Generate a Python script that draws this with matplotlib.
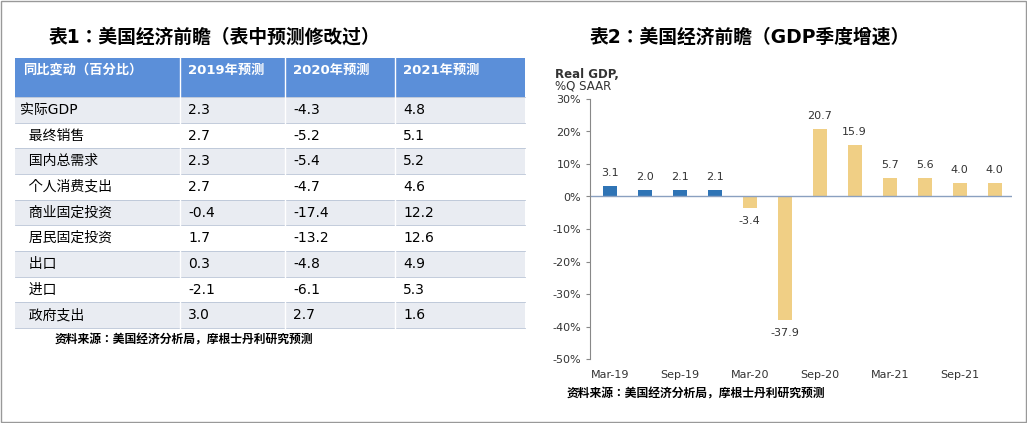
import matplotlib.pyplot as plt
from matplotlib import font_manager
from matplotlib.patches import Rectangle

# pick whatever CJK family matplotlib actually registered
cjk = [f.name for f in font_manager.fontManager.ttflist if 'CJK' in f.name]
pref = [n for n in ['Noto Sans CJK SC', 'Noto Sans CJK JP', 'Noto Sans CJK TC'] if n in cjk]
plt.rcParams['font.family'] = ['DejaVu Sans'] + (pref[:1] or cjk[:1])
plt.rcParams['font.sans-serif'] = plt.rcParams['font.family']

# table data
col_headers = ['同比变动（百分比）', '2019年预测', '2020年预测', '2021年预测']
row_names = ['实际GDP', '  最终销售', '  国内总需求', '  个人消费支出', '  商业固定投资',
             '  居民固定投资', '  出口', '  进口', '  政府支出']
f2019 = ['2.3', '2.7', '2.3', '2.7', '-0.4', '1.7', '0.3', '-2.1', '3.0']
f2020 = ['-4.3', '-5.2', '-5.4', '-4.7', '-17.4', '-13.2', '-4.8', '-6.1', '2.7']
f2021 = ['4.8', '5.1', '5.2', '4.6', '12.2', '12.6', '4.9', '5.3', '1.6']

# chart data
quarters = ['Mar-19', 'Jun-19', 'Sep-19', 'Dec-19', 'Mar-20', 'Jun-20',
            'Sep-20', 'Dec-20', 'Mar-21', 'Jun-21', 'Sep-21', 'Dec-21']
gdp = [3.1, 2.0, 2.1, 2.1, -3.4, -37.9, 20.7, 15.9, 5.7, 5.6, 4.0, 4.0]
n_actual = 4

W, H = 1027, 423
fig = plt.figure(figsize=(W / 100, H / 100), dpi=100)
bg = fig.add_axes([0, 0, 1, 1])
bg.set_xlim(0, W)
bg.set_ylim(H, 0)
bg.axis('off')
bg.add_patch(Rectangle((1, 1), W - 2, H - 2, fill=False, ec='#999999', lw=1))

bg.text(215, 37, '表1：美国经济前瞻（表中预测修改过）', ha='center', va='center',
        fontsize=13.5, fontweight='bold')
bg.text(750, 37, '表2：美国经济前瞻（GDP季度增速）', ha='center', va='center',
        fontsize=13.5, fontweight='bold')

# table
col_x = [15, 180, 285, 395, 525]
head_top, head_bot = 58, 97
row_h = (328 - head_bot) / len(row_names)
bg.add_patch(Rectangle((col_x[0], head_top), col_x[-1] - col_x[0], head_bot - head_top,
                       color='#5b8fd9', lw=0))
for j, h in enumerate(col_headers):
    bg.text(col_x[j] + 8, head_top + 12, h, color='white', fontsize=9.5,
            fontweight='bold', va='center')
for i, name in enumerate(row_names):
    y0 = head_bot + i * row_h
    fc = '#e9ecf2' if i % 2 == 0 else 'white'
    bg.add_patch(Rectangle((col_x[0], y0), col_x[-1] - col_x[0], row_h, color=fc, lw=0))
    bg.plot([col_x[0], col_x[-1]], [y0, y0], color='#b9c4d6', lw=0.6)
    yc = y0 + row_h / 2
    bg.text(col_x[0] + 5, yc, name, fontsize=10, va='center')
    for j, vals in enumerate([f2019, f2020, f2021]):
        bg.text(col_x[j + 1] + 8, yc, vals[i], fontsize=10, va='center')
bg.plot([col_x[0], col_x[-1]], [328, 328], color='#b9c4d6', lw=0.6)
for x in col_x[1:-1]:
    bg.plot([x, x], [head_top, 328], color='white', lw=1)

bg.text(55, 340, '资料来源：美国经济分析局，摩根士丹利研究预测', fontsize=8.5,
        fontweight='bold', va='center')
bg.text(567, 394, '资料来源：美国经济分析局，摩根士丹利研究预测', fontsize=8.5,
        fontweight='bold', va='center')
bg.text(555, 75, 'Real GDP,', fontsize=8.5, fontweight='bold', va='center', color='#333333')
bg.text(555, 86, '%Q SAAR', fontsize=8.5, va='center', color='#333333')

# bar chart
ax = fig.add_axes([590 / W, 1 - 359 / H, 422 / W, 260 / H])
x = range(len(gdp))
colors = ['#2f74b5' if i < n_actual else '#f0cf85' for i in x]
ax.bar(x, gdp, width=0.4, color=colors)
for i, v in enumerate(gdp):
    off = 2.5 if v >= 0 else -2.5
    ax.text(i, v + off, f'{v:.1f}', ha='center', va='bottom' if v >= 0 else 'top',
            fontsize=8, color='#333333')
ax.axhline(0, color='#8aa0c0', lw=1)
ax.set_ylim(-50, 30)
ax.set_xlim(-0.57, 11.5)
ax.set_yticks(range(-50, 31, 10))
ax.set_yticklabels([f'{t}%' for t in range(-50, 31, 10)], fontsize=8, color='#333333')
ax.set_xticks(list(x)[::2])
ax.set_xticklabels(quarters[::2], fontsize=8, color='#333333')
ax.tick_params(axis='x', length=0, pad=8)
ax.tick_params(axis='y', length=3, color='#888888')
for s in ['top', 'right', 'bottom']:
    ax.spines[s].set_visible(False)
ax.spines['left'].set_color('#888888')

fig.savefig('out.png', dpi=100)
